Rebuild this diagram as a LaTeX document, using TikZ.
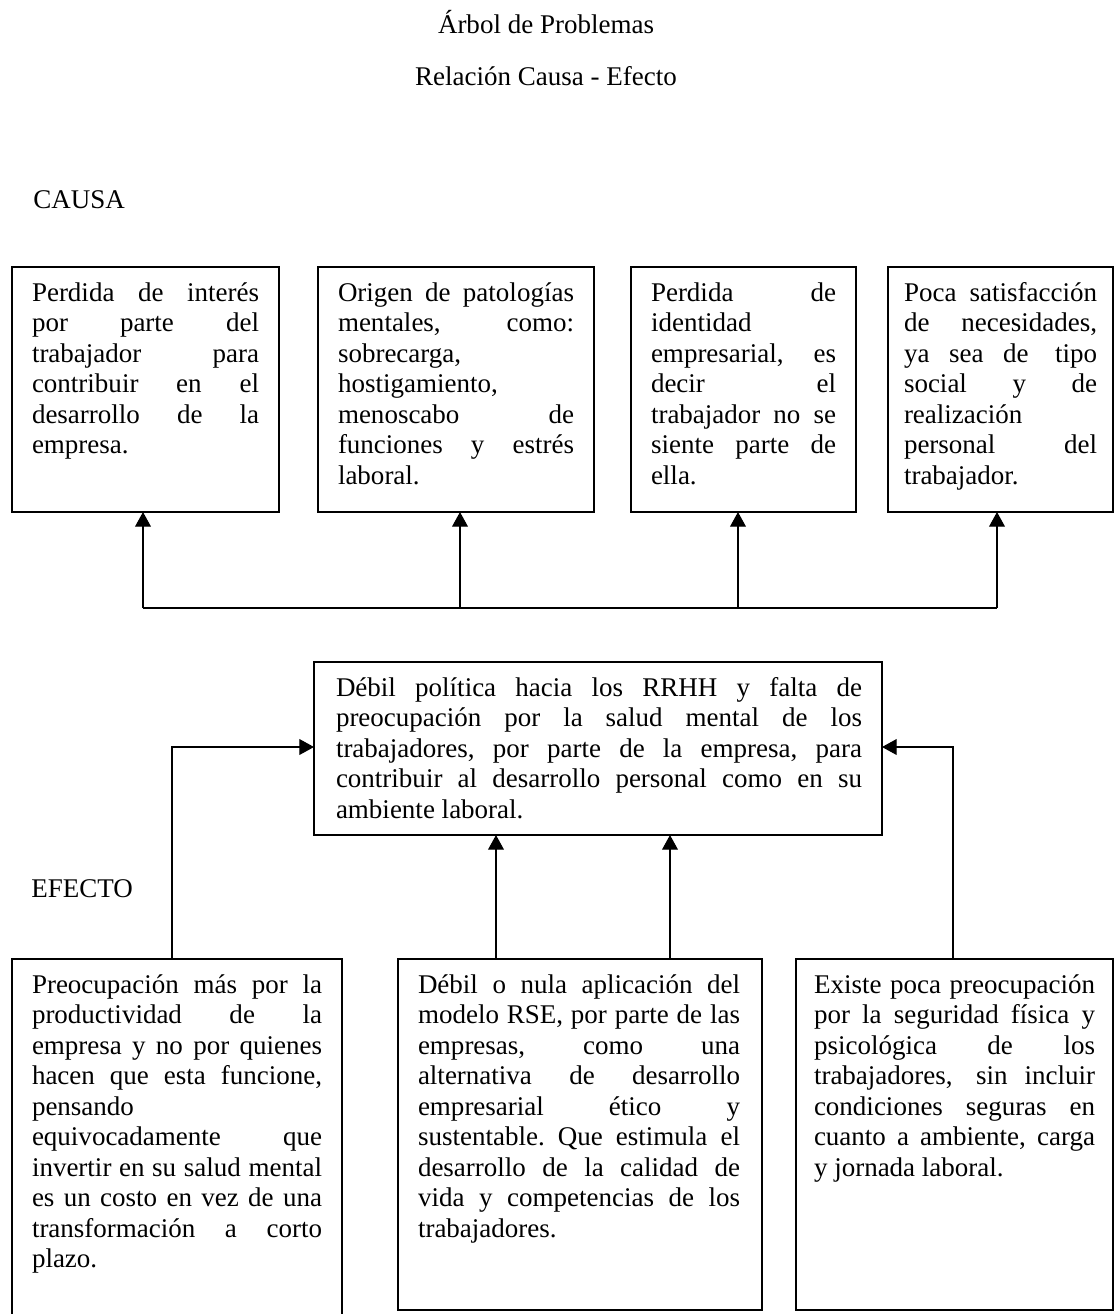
\documentclass[tikz,border=0pt]{standalone}
\usepackage{fontspec}
\setmainfont{Liberation Serif}
\usetikzlibrary{arrows.meta,calc}
\newlength\jw
\newcommand\jl[1]{\makebox[\jw][s]{#1}\\}
\newcommand\tb[1]{\frenchspacing\spaceskip=0pt\xspaceskip=0pt\noindent\strut#1}
\begin{document}
\begin{tikzpicture}[x=0.4444pt,y=-0.4444pt,
  box/.style 2 args={draw,line width=0.55pt,inner sep=0pt,outer sep=0pt,anchor=north west,minimum width=#1*0.4444pt,minimum height=#2*0.4444pt},
  txt/.style={inner sep=0pt,outer sep=0pt,anchor=north west,align=justify,text width=#1*0.4444pt,font=\fontsize{12pt}{13.55pt}\selectfont,execute at begin node={\pgfmathsetlength\jw{#1*0.4444pt}}},
  lbl/.style={inner sep=0pt,font=\fontsize{12pt}{13.55pt}\selectfont},
  conn/.style={line width=0.55pt},
  arr/.style={line width=0.55pt,-{Triangle[length=6.5pt,width=7pt]}}]
\useasboundingbox (0,0) rectangle (1117,1314);
\clip (0,0) rectangle (1117,1314);

% titles
\node[lbl,anchor=base] (title) at (546,33) {Árbol de Problemas};
\node[lbl,anchor=base] (sub) at (546,85) {Relación Causa - Efecto};
\node[lbl,anchor=base west] (causa) at (33,208) {CAUSA};
\node[lbl,anchor=base west] (efecto) at (31,897) {EFECTO};

% top boxes
\node[box={267}{245}] (b1) at (12,267) {};
\node[txt=227] (tb1) at (32,280) {\tb{\jl{Perdida de interés}\jl{por parte del}\jl{trabajador para}\jl{contribuir en el}\jl{desarrollo de la}empresa.}};
\node[box={276}{245}] (b2) at (318,267) {};
\node[txt=236] (tb2) at (338,280) {\tb{\jl{Origen de patologías}\jl{mentales, como:}sobrecarga,\\hostigamiento,\\\jl{menoscabo de}\jl{funciones y estrés}laboral.}};
\node[box={225}{245}] (b3) at (631,267) {};
\node[txt=185] (tb3) at (651,280) {\tb{\jl{Perdida de}identidad\\\jl{empresarial, es}\jl{decir el}\jl{trabajador no se}\jl{siente parte de}ella.}};
\node[box={225}{245}] (b4) at (888,267) {};
\node[txt=193] (tb4) at (904,280) {\tb{\jl{Poca satisfacción}\jl{de necesidades,}\jl{ya sea de\hspace{0.25em} tipo}\jl{social y de}realización\\\jl{personal del}trabajador.}};

% connectors top
\coordinate (j1) at (143,608);
\coordinate (j2) at (460,608);
\coordinate (j3) at (738,608);
\coordinate (j4) at (997,608);
\draw[conn] (j1) -- (j4);
\draw[arr] (j1) -- (j1 |- b1.south);
\draw[arr] (j2) -- (j2 |- b2.south);
\draw[arr] (j3) -- (j3 |- b3.south);
\draw[arr] (j4) -- (j4 |- b4.south);

% middle box
\node[box={568}{173}] (m) at (314,662) {};
\node[txt=526] (tm) at (336,675) {\tb{\jl{Débil política hacia los RRHH y falta de}\jl{preocupación por la salud mental de los}\jl{trabajadores, por parte de la empresa, para}\jl{contribuir al desarrollo personal como en su}ambiente laboral.}};

% bottom boxes
\node[box={330}{400}] (e1) at (12,959) {};
\node[txt=290] (te1) at (32,972) {\tb{\jl{Preocupación más por la}\jl{productividad de la}\jl{empresa y no por quienes}\jl{hacen que esta funcione,}pensando\\\jl{equivocadamente que}\jl{invertir en su salud mental}\jl{es un costo en vez de una}\jl{transformación a corto}plazo.}};
\node[box={364}{351}] (e2) at (398,959) {};
\node[txt=322] (te2) at (418,972) {\tb{\jl{Débil o nula aplicación del}\jl{modelo RSE, por parte de las}\jl{empresas, como una}\jl{alternativa de desarrollo}\jl{empresarial ético y}\jl{sustentable. Que estimula el}\jl{desarrollo de la calidad de}\jl{vida y competencias de los}trabajadores.}};
\node[box={317}{351}] (e3) at (796,959) {};
\node[txt=281] (te3) at (814,972) {\tb{\jl{Existe poca preocupación}\jl{por la seguridad física y}\jl{psicológica de los}\jl{trabajadores,\hspace{0.25em} sin incluir}\jl{condiciones seguras en}\jl{cuanto a ambiente, carga}y jornada laboral.}};

% connectors bottom
\coordinate (k1) at (172,747);
\coordinate (k2) at (953,747);
\coordinate (k3) at (496,900);
\coordinate (k4) at (670,900);
\draw[arr] (k1 |- e1.north) -- (k1) -- (k1 -| m.west);
\draw[arr] (k2 |- e3.north) -- (k2) -- (k2 -| m.east);
\draw[arr] (k3 |- e2.north) -- (k3 |- m.south);
\draw[arr] (k4 |- e2.north) -- (k4 |- m.south);
\end{tikzpicture}
\end{document}
